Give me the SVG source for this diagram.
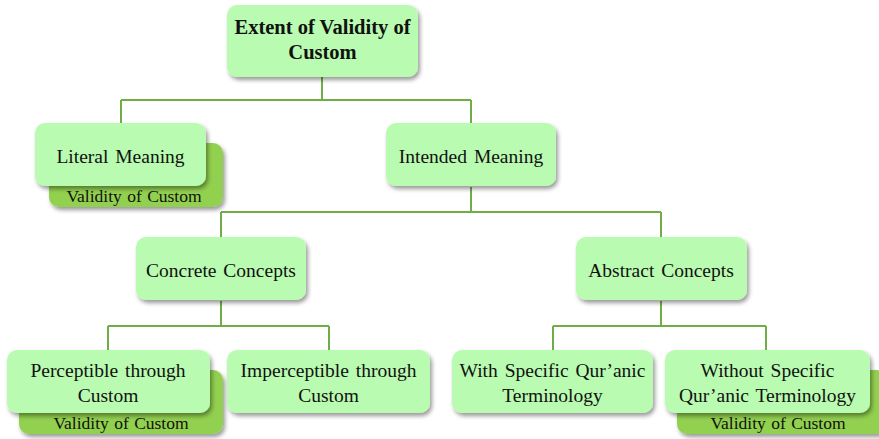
<svg xmlns="http://www.w3.org/2000/svg" width="879" height="439" viewBox="0 0 879 439">
<defs>
<filter id="sh" x="-10%" y="-10%" width="125%" height="135%">
<feDropShadow dx="2" dy="3" stdDeviation="2" flood-color="#000" flood-opacity="0.4"/>
</filter>
<style>
.box{fill:#b9fbb0;filter:url(#sh)}
.back{fill:#92d050;filter:url(#sh)}
.t{font-family:"Liberation Serif","Times New Roman",serif;font-size:19.5px;word-spacing:2px;fill:#111;text-anchor:middle}
.b{font-weight:bold;font-size:20.5px;word-spacing:0}
.s{font-size:17.5px;word-spacing:1px}
.c{fill:none;stroke:#70ad47;stroke-width:2}
</style>
</defs>
<rect width="879" height="439" fill="#fff"/>
<g id="connectors">
<path class="c" d="M322,77V100M121,100H471M121,100V123M471,100V123"/>
<path class="c" d="M471,187V212M221,212H661M221,212V237M661,212V237"/>
<path class="c" d="M221,301V326M108,326H329M108,326V350M329,326V350"/>
<path class="c" d="M661,301V326M553,326H766M553,326V350M766,326V350"/>
</g>
<g id="root">
<rect class="box" x="227" y="5" width="191" height="72" rx="10"/>
<text class="t b" x="322.5" y="34">Extent of Validity of</text>
<text class="t b" x="322.5" y="59">Custom</text>
</g>
<g id="literal">
<rect class="back" x="49" y="143" width="174" height="64" rx="10"/>
<text class="t s" x="134" y="202">Validity of Custom</text>
<rect class="box" x="35" y="123" width="171" height="63" rx="10"/>
<text class="t" x="120.5" y="163">Literal Meaning</text>
</g>
<g id="intended">
<rect class="box" x="386" y="123" width="170" height="63" rx="10"/>
<text class="t" x="471" y="163">Intended Meaning</text>
</g>
<g id="concrete">
<rect class="box" x="136" y="237" width="170" height="63" rx="10"/>
<text class="t" x="221" y="277">Concrete Concepts</text>
</g>
<g id="abstract">
<rect class="box" x="576" y="237" width="171" height="63" rx="10"/>
<text class="t" x="661" y="277">Abstract Concepts</text>
</g>
<g id="perceptible">
<rect class="back" x="19" y="370" width="204" height="64" rx="10"/>
<text class="t s" x="121" y="429">Validity of Custom</text>
<rect class="box" x="7" y="350" width="203" height="63" rx="10"/>
<text class="t" x="108" y="377">Perceptible through</text>
<text class="t" x="108" y="402">Custom</text>
</g>
<g id="imperceptible">
<rect class="box" x="227" y="350" width="203" height="63" rx="10"/>
<text class="t" x="328.5" y="377">Imperceptible through</text>
<text class="t" x="328.5" y="402">Custom</text>
</g>
<g id="withspecific">
<rect class="box" x="452" y="350" width="201" height="63" rx="10"/>
<text class="t" x="552.5" y="377">With Specific Qur’anic</text>
<text class="t" x="552.5" y="402">Terminology</text>
</g>
<g id="withoutspecific">
<rect class="back" x="677" y="370" width="210" height="64" rx="10"/>
<text class="t s" x="778" y="429">Validity of Custom</text>
<rect class="box" x="665" y="350" width="205" height="63" rx="10"/>
<text class="t" x="767.5" y="377">Without Specific</text>
<text class="t" x="767.5" y="402">Qur’anic Terminology</text>
</g>
</svg>
